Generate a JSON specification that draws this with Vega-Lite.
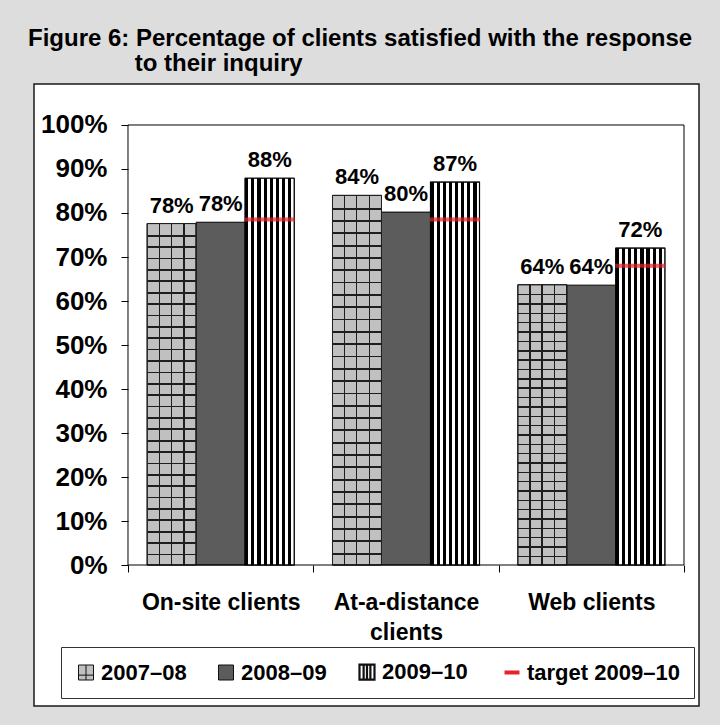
{
  "$schema": "https://vega.github.io/schema/vega-lite/v6.json",
  "width": 665,
  "height": 622,
  "autosize": {"type": "none"},
  "padding": {"left": 34, "top": 84, "right": 21, "bottom": 19},
  "background": "#dddddd",
  "config": {
    "view": {"fill": "white", "stroke": "#1a1a1a", "strokeWidth": 1.5},
    "font": "Liberation Sans"
  },
  "title": {
    "text": ["Figure 6: Percentage of clients satisfied with the response", "\u200b\u00a0\u00a0\u00a0\u00a0\u00a0\u00a0\u00a0\u00a0\u00a0\u00a0\u00a0\u00a0\u00a0\u00a0\u00a0\u00a0to their inquiry"],
    "anchor": "start",
    "frame": "group",
    "font": "Liberation Sans",
    "fontSize": 24,
    "fontWeight": "bold",
    "color": "black",
    "lineHeight": 25,
    "offset": 8,
    "dx": -6
  },
  "data": {
    "values": [
      {"cat": "On-site clients", "series": "2007–08", "value": 0.776},
      {"cat": "On-site clients", "series": "2008–09", "value": 0.779},
      {"cat": "On-site clients", "series": "2009–10", "value": 0.879, "target": 0.785},
      {"cat": "At-a-distance clients", "series": "2007–08", "value": 0.840},
      {"cat": "At-a-distance clients", "series": "2008–09", "value": 0.802},
      {"cat": "At-a-distance clients", "series": "2009–10", "value": 0.870, "target": 0.785},
      {"cat": "Web clients", "series": "2007–08", "value": 0.637},
      {"cat": "Web clients", "series": "2008–09", "value": 0.636},
      {"cat": "Web clients", "series": "2009–10", "value": 0.720, "target": 0.680}
    ]
  },
  "resolve": {"scale": {"x": "independent"}},
  "layer": [
    {
      "encoding": {
        "x": {
          "field": "cat", "type": "nominal", "sort": null,
          "scale": {"type": "band", "paddingInner": 0, "paddingOuter": 0.29406, "align": 0.8624},
          "axis": {
            "orient": "bottom", "offset": -141, "tickBand": "extent", "domain": false,
            "tickSize": 7, "tickColor": "black", "tickWidth": 1,
            "labelFont": "Liberation Sans", "labelFontSize": 23, "labelFontWeight": "bold", "labelColor": "black",
            "labelPadding": 19, "labelLineHeight": 30, "labelAngle": 0, "labelLimit": 400,
            "labelExpr": "datum.value === 'At-a-distance clients' ? ['At-a-distance', 'clients'] : datum.value",
            "title": null
          }
        },
        "xOffset": {"field": "series", "type": "nominal", "scale": {"paddingInner": 0, "paddingOuter": 0.391}},
        "y": {
          "field": "value", "type": "quantitative",
          "scale": {"domain": [-0.32045, 1.09318], "nice": false, "zero": false},
          "axis": {
            "values": [0, 0.1, 0.2, 0.3, 0.4, 0.5, 0.6, 0.7, 0.8, 0.9, 1],
            "format": ".0%", "domain": false, "grid": false, "offset": -94,
            "tickSize": 7, "tickColor": "black", "tickWidth": 1,
            "labelFont": "Liberation Sans", "labelFontSize": 26, "labelFontWeight": "bold", "labelColor": "black",
            "labelPadding": 14, "labelOverlap": false, "labelBound": false, "labelFlush": false,
            "title": null
          }
        }
      },
      "layer": [
        {
          "mark": {"type": "bar", "stroke": "black", "strokeWidth": 1},
          "encoding": {
            "y2": {"datum": 0},
            "color": {
              "field": "series", "type": "nominal",
              "scale": {
                "domain": ["2007–08", "2008–09", "2009–10", "target 2009–10"],
                "range": ["#c0c0c0", "#5c5c5c", "#ffffff", "#e8222a"]
              },
              "legend": {
                "orient": "none", "legendX": 27, "legendY": 563,
                "direction": "horizontal", "columns": 4, "title": null,
                "labelFont": "Liberation Sans", "labelFontSize": 22, "labelFontWeight": "bold", "labelColor": "black",
                "labelLimit": 300, "labelOffset": 4,
                "symbolSize": 225, "symbolStrokeWidth": 1, "symbolStrokeColor": "black",
                "columnPadding": 28, "padding": 14,
                "strokeColor": "#333333", "fillColor": "white",
                "encode": {
                  "symbols": {
                    "update": {
                      "shape": {"signal": "datum.value === 'target 2009–10' ? 'stroke' : datum.value === '2009–10' ? 'M-1,-1H1V1H-1Z M-0.45,-1V1 M0,-1V1 M0.45,-1V1' : datum.value === '2007–08' ? 'M-1,-1H1V1H-1Z M0,-1V1 M-1,0.35H1' : 'square'"},
                      "stroke": {"signal": "datum.value === 'target 2009–10' ? '#e8222a' : '#111111'"},
                      "strokeWidth": {"signal": "datum.value === 'target 2009–10' ? 4 : datum.value === '2009–10' ? 2.2 : 1"},
                      "fill": {"signal": "datum.value === '2009–10' ? '#ffffff' : datum.value === '2007–08' ? '#c0c0c0' : datum.value === '2008–09' ? '#5c5c5c' : 'transparent'"},
                      "opacity": {"value": 1}
                    }
                  }
                }
              }
            }
          }
        },
        {
          "transform": [{"filter": "datum.series === '2007–08'"}],
          "mark": {
            "type": "bar", "stroke": "#222222", "strokeWidth": 1,
            "fill": {"gradient": "linear", "x1": 0, "y1": 0, "x2": 1, "y2": 0, "stops": [
              {"offset": 0, "color": "rgba(0,0,0,0)"},
              {"offset": 0.235, "color": "rgba(0,0,0,0)"}, {"offset": 0.235, "color": "#1e1e1e"}, {"offset": 0.26, "color": "#1e1e1e"}, {"offset": 0.26, "color": "rgba(0,0,0,0)"},
              {"offset": 0.48, "color": "rgba(0,0,0,0)"}, {"offset": 0.48, "color": "#1e1e1e"}, {"offset": 0.505, "color": "#1e1e1e"}, {"offset": 0.505, "color": "rgba(0,0,0,0)"},
              {"offset": 0.74, "color": "rgba(0,0,0,0)"}, {"offset": 0.74, "color": "#1e1e1e"}, {"offset": 0.765, "color": "#1e1e1e"}, {"offset": 0.765, "color": "rgba(0,0,0,0)"},
              {"offset": 1, "color": "rgba(0,0,0,0)"}
            ]}
          },
          "encoding": {"y2": {"datum": 0}}
        },
        {
          "transform": [{"filter": "datum.series === '2007–08'"}],
          "mark": {
            "type": "bar", "strokeWidth": 0,
            "fill": {"gradient": "linear", "x1": 0, "y1": 0, "x2": 0, "y2": 1, "stops": [
              {"offset": 0, "color": "rgba(0,0,0,0)"},
              {"offset": 0.0333, "color": "rgba(0,0,0,0)"}, {"offset": 0.0333, "color": "#1e1e1e"}, {"offset": 0.0383, "color": "#1e1e1e"}, {"offset": 0.0383, "color": "rgba(0,0,0,0)"},
              {"offset": 0.0667, "color": "rgba(0,0,0,0)"}, {"offset": 0.0667, "color": "#1e1e1e"}, {"offset": 0.0717, "color": "#1e1e1e"}, {"offset": 0.0717, "color": "rgba(0,0,0,0)"},
              {"offset": 0.1, "color": "rgba(0,0,0,0)"}, {"offset": 0.1, "color": "#1e1e1e"}, {"offset": 0.105, "color": "#1e1e1e"}, {"offset": 0.105, "color": "rgba(0,0,0,0)"},
              {"offset": 0.1333, "color": "rgba(0,0,0,0)"}, {"offset": 0.1333, "color": "#1e1e1e"}, {"offset": 0.1383, "color": "#1e1e1e"}, {"offset": 0.1383, "color": "rgba(0,0,0,0)"},
              {"offset": 0.1667, "color": "rgba(0,0,0,0)"}, {"offset": 0.1667, "color": "#1e1e1e"}, {"offset": 0.1717, "color": "#1e1e1e"}, {"offset": 0.1717, "color": "rgba(0,0,0,0)"},
              {"offset": 0.2, "color": "rgba(0,0,0,0)"}, {"offset": 0.2, "color": "#1e1e1e"}, {"offset": 0.205, "color": "#1e1e1e"}, {"offset": 0.205, "color": "rgba(0,0,0,0)"},
              {"offset": 0.2333, "color": "rgba(0,0,0,0)"}, {"offset": 0.2333, "color": "#1e1e1e"}, {"offset": 0.2383, "color": "#1e1e1e"}, {"offset": 0.2383, "color": "rgba(0,0,0,0)"},
              {"offset": 0.2667, "color": "rgba(0,0,0,0)"}, {"offset": 0.2667, "color": "#1e1e1e"}, {"offset": 0.2717, "color": "#1e1e1e"}, {"offset": 0.2717, "color": "rgba(0,0,0,0)"},
              {"offset": 0.3, "color": "rgba(0,0,0,0)"}, {"offset": 0.3, "color": "#1e1e1e"}, {"offset": 0.305, "color": "#1e1e1e"}, {"offset": 0.305, "color": "rgba(0,0,0,0)"},
              {"offset": 0.3333, "color": "rgba(0,0,0,0)"}, {"offset": 0.3333, "color": "#1e1e1e"}, {"offset": 0.3383, "color": "#1e1e1e"}, {"offset": 0.3383, "color": "rgba(0,0,0,0)"},
              {"offset": 0.3667, "color": "rgba(0,0,0,0)"}, {"offset": 0.3667, "color": "#1e1e1e"}, {"offset": 0.3717, "color": "#1e1e1e"}, {"offset": 0.3717, "color": "rgba(0,0,0,0)"},
              {"offset": 0.4, "color": "rgba(0,0,0,0)"}, {"offset": 0.4, "color": "#1e1e1e"}, {"offset": 0.405, "color": "#1e1e1e"}, {"offset": 0.405, "color": "rgba(0,0,0,0)"},
              {"offset": 0.4333, "color": "rgba(0,0,0,0)"}, {"offset": 0.4333, "color": "#1e1e1e"}, {"offset": 0.4383, "color": "#1e1e1e"}, {"offset": 0.4383, "color": "rgba(0,0,0,0)"},
              {"offset": 0.4667, "color": "rgba(0,0,0,0)"}, {"offset": 0.4667, "color": "#1e1e1e"}, {"offset": 0.4717, "color": "#1e1e1e"}, {"offset": 0.4717, "color": "rgba(0,0,0,0)"},
              {"offset": 0.5, "color": "rgba(0,0,0,0)"}, {"offset": 0.5, "color": "#1e1e1e"}, {"offset": 0.505, "color": "#1e1e1e"}, {"offset": 0.505, "color": "rgba(0,0,0,0)"},
              {"offset": 0.5333, "color": "rgba(0,0,0,0)"}, {"offset": 0.5333, "color": "#1e1e1e"}, {"offset": 0.5383, "color": "#1e1e1e"}, {"offset": 0.5383, "color": "rgba(0,0,0,0)"},
              {"offset": 0.5667, "color": "rgba(0,0,0,0)"}, {"offset": 0.5667, "color": "#1e1e1e"}, {"offset": 0.5717, "color": "#1e1e1e"}, {"offset": 0.5717, "color": "rgba(0,0,0,0)"},
              {"offset": 0.6, "color": "rgba(0,0,0,0)"}, {"offset": 0.6, "color": "#1e1e1e"}, {"offset": 0.605, "color": "#1e1e1e"}, {"offset": 0.605, "color": "rgba(0,0,0,0)"},
              {"offset": 0.6333, "color": "rgba(0,0,0,0)"}, {"offset": 0.6333, "color": "#1e1e1e"}, {"offset": 0.6383, "color": "#1e1e1e"}, {"offset": 0.6383, "color": "rgba(0,0,0,0)"},
              {"offset": 0.6667, "color": "rgba(0,0,0,0)"}, {"offset": 0.6667, "color": "#1e1e1e"}, {"offset": 0.6717, "color": "#1e1e1e"}, {"offset": 0.6717, "color": "rgba(0,0,0,0)"},
              {"offset": 0.7, "color": "rgba(0,0,0,0)"}, {"offset": 0.7, "color": "#1e1e1e"}, {"offset": 0.705, "color": "#1e1e1e"}, {"offset": 0.705, "color": "rgba(0,0,0,0)"},
              {"offset": 0.7333, "color": "rgba(0,0,0,0)"}, {"offset": 0.7333, "color": "#1e1e1e"}, {"offset": 0.7383, "color": "#1e1e1e"}, {"offset": 0.7383, "color": "rgba(0,0,0,0)"},
              {"offset": 0.7667, "color": "rgba(0,0,0,0)"}, {"offset": 0.7667, "color": "#1e1e1e"}, {"offset": 0.7717, "color": "#1e1e1e"}, {"offset": 0.7717, "color": "rgba(0,0,0,0)"},
              {"offset": 0.8, "color": "rgba(0,0,0,0)"}, {"offset": 0.8, "color": "#1e1e1e"}, {"offset": 0.805, "color": "#1e1e1e"}, {"offset": 0.805, "color": "rgba(0,0,0,0)"},
              {"offset": 0.8333, "color": "rgba(0,0,0,0)"}, {"offset": 0.8333, "color": "#1e1e1e"}, {"offset": 0.8383, "color": "#1e1e1e"}, {"offset": 0.8383, "color": "rgba(0,0,0,0)"},
              {"offset": 0.8667, "color": "rgba(0,0,0,0)"}, {"offset": 0.8667, "color": "#1e1e1e"}, {"offset": 0.8717, "color": "#1e1e1e"}, {"offset": 0.8717, "color": "rgba(0,0,0,0)"},
              {"offset": 0.9, "color": "rgba(0,0,0,0)"}, {"offset": 0.9, "color": "#1e1e1e"}, {"offset": 0.905, "color": "#1e1e1e"}, {"offset": 0.905, "color": "rgba(0,0,0,0)"},
              {"offset": 0.9333, "color": "rgba(0,0,0,0)"}, {"offset": 0.9333, "color": "#1e1e1e"}, {"offset": 0.9383, "color": "#1e1e1e"}, {"offset": 0.9383, "color": "rgba(0,0,0,0)"},
              {"offset": 0.9667, "color": "rgba(0,0,0,0)"}, {"offset": 0.9667, "color": "#1e1e1e"}, {"offset": 0.9717, "color": "#1e1e1e"}, {"offset": 0.9717, "color": "rgba(0,0,0,0)"},
              {"offset": 1, "color": "rgba(0,0,0,0)"}
            ]}
          },
          "encoding": {"y2": {"datum": 0}}
        },
        {
          "transform": [{"filter": "datum.series === '2009–10'"}],
          "mark": {
            "type": "bar", "stroke": "black", "strokeWidth": 1.2,
            "fill": {"gradient": "linear", "x1": 0, "y1": 0, "x2": 1, "y2": 0, "stops": [
              {"offset": 0, "color": "black"}, {"offset": 0.065, "color": "black"}, {"offset": 0.065, "color": "white"}, {"offset": 0.125, "color": "white"},
              {"offset": 0.125, "color": "black"}, {"offset": 0.19, "color": "black"}, {"offset": 0.19, "color": "white"}, {"offset": 0.25, "color": "white"},
              {"offset": 0.25, "color": "black"}, {"offset": 0.315, "color": "black"}, {"offset": 0.315, "color": "white"}, {"offset": 0.375, "color": "white"},
              {"offset": 0.375, "color": "black"}, {"offset": 0.44, "color": "black"}, {"offset": 0.44, "color": "white"}, {"offset": 0.5, "color": "white"},
              {"offset": 0.5, "color": "black"}, {"offset": 0.565, "color": "black"}, {"offset": 0.565, "color": "white"}, {"offset": 0.625, "color": "white"},
              {"offset": 0.625, "color": "black"}, {"offset": 0.69, "color": "black"}, {"offset": 0.69, "color": "white"}, {"offset": 0.75, "color": "white"},
              {"offset": 0.75, "color": "black"}, {"offset": 0.815, "color": "black"}, {"offset": 0.815, "color": "white"}, {"offset": 0.875, "color": "white"},
              {"offset": 0.875, "color": "black"}, {"offset": 0.94, "color": "black"}, {"offset": 0.94, "color": "white"}, {"offset": 1, "color": "white"}
            ]}
          },
          "encoding": {"y2": {"datum": 0}}
        },
        {
          "transform": [{"filter": "datum.series === '2009–10'"}],
          "mark": {"type": "tick", "thickness": 4, "size": 50},
          "encoding": {
            "y": {"field": "target", "type": "quantitative"},
            "color": {"datum": "target 2009–10", "type": "nominal"}
          }
        },
        {
          "mark": {"type": "text", "baseline": "alphabetic", "dy": -11, "font": "Liberation Sans", "fontSize": 22, "fontWeight": "bold", "color": "black"},
          "encoding": {
            "text": {"field": "value", "type": "quantitative", "format": ".0%"}
          }
        }
      ]
    },
    {
      "data": {"values": [{"frame": "plot"}]},
      "mark": {"type": "rect", "fillOpacity": 0, "stroke": "black", "strokeWidth": 1},
      "encoding": {
        "x": {"datum": 0, "type": "quantitative", "scale": {"domain": [-0.16906, 1.02698], "nice": false, "zero": false}, "axis": null},
        "x2": {"datum": 1},
        "y": {"datum": 0, "type": "quantitative"},
        "y2": {"datum": 1}
      }
    }
  ]
}
